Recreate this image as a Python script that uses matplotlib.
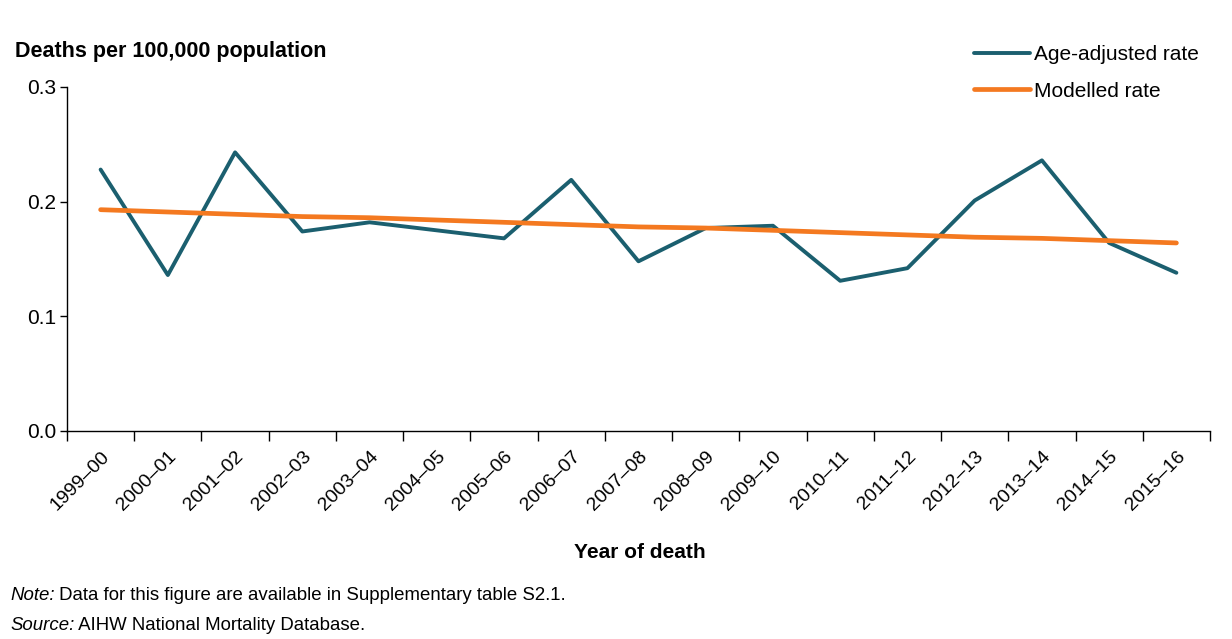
import matplotlib
matplotlib.use('Agg')
import matplotlib.pyplot as plt
from matplotlib.ticker import FixedLocator, FormatStrFormatter

plt.rcParams['font.family'] = ['Liberation Sans', 'DejaVu Sans']

# data
years = ['1999–00', '2000–01', '2001–02', '2002–03', '2003–04', '2004–05',
         '2005–06', '2006–07', '2007–08', '2008–09', '2009–10', '2010–11',
         '2011–12', '2012–13', '2013–14', '2014–15', '2015–16']
age_adjusted = [0.228, 0.136, 0.243, 0.174, 0.182, 0.175, 0.168, 0.219, 0.148,
                0.177, 0.179, 0.131, 0.142, 0.201, 0.236, 0.164, 0.138]
modelled = [0.193, 0.191, 0.189, 0.187, 0.186, 0.184, 0.182, 0.180, 0.178,
            0.177, 0.175, 0.173, 0.171, 0.169, 0.168, 0.166, 0.164]

teal = '#1b5f6f'
orange = '#f47920'

W, H = 1232, 639
fig = plt.figure(figsize=(W / 100, H / 100), dpi=100)
ax = fig.add_axes([67 / W, 208 / H, (1210 - 67) / W, (431 - 87) / H])

x = list(range(len(years)))
ax.plot(x, age_adjusted, color=teal, linewidth=2.8, label='Age-adjusted rate',
        solid_capstyle='round')
ax.plot(x, modelled, color=orange, linewidth=3.4, label='Modelled rate',
        solid_capstyle='round')

ax.set_xlim(-0.5, len(years) - 0.5)
ax.set_ylim(0, 0.3)
ax.set_yticks([0.0, 0.1, 0.2, 0.3])
ax.yaxis.set_major_formatter(FormatStrFormatter('%.1f'))

# labels at category centres, tick marks at boundaries
ax.set_xticks(x)
ax.set_xticklabels(years, rotation=45, ha='right', rotation_mode='anchor')
ax.tick_params(axis='x', which='major', length=0, pad=12, labelsize=14)
ax.xaxis.set_minor_locator(FixedLocator([i - 0.5 for i in range(len(years) + 1)]))
ax.tick_params(axis='x', which='minor', length=7, width=1, direction='out')
ax.tick_params(axis='y', length=5, width=1, labelsize=15, pad=3)

for s in ['top', 'right']:
    ax.spines[s].set_visible(False)
for s in ['left', 'bottom']:
    ax.spines[s].set_linewidth(1)

fig.text(15 / W, 1 - 52 / H, 'Deaths per 100,000 population', fontsize=15.5,
         fontweight='bold', va='center', ha='left')
fig.text(640 / W, 1 - 552 / H, 'Year of death', fontsize=15,
         fontweight='bold', va='center', ha='center')

fig.legend(loc='upper right', bbox_to_anchor=(1199 / W, 1 - 45 / H),
           frameon=False, fontsize=15, handlelength=2.7,
           handletextpad=0.2, labelspacing=0.85, borderaxespad=0,
           borderpad=0)

# footnotes: italic lead-in followed by plain text
renderer = fig.canvas.get_renderer()
for y, lead, rest in [(596, 'Note:', ' Data for this figure are available in Supplementary table S2.1.'),
                      (626, 'Source:', ' AIHW National Mortality Database.')]:
    t1 = fig.text(10 / W, 1 - y / H, lead, fontsize=13.4, style='italic', va='center')
    bb = t1.get_window_extent(renderer)
    fig.text(bb.x1 / W, 1 - y / H, rest, fontsize=13.4, va='center')

plt.savefig('out.png', dpi=100)
